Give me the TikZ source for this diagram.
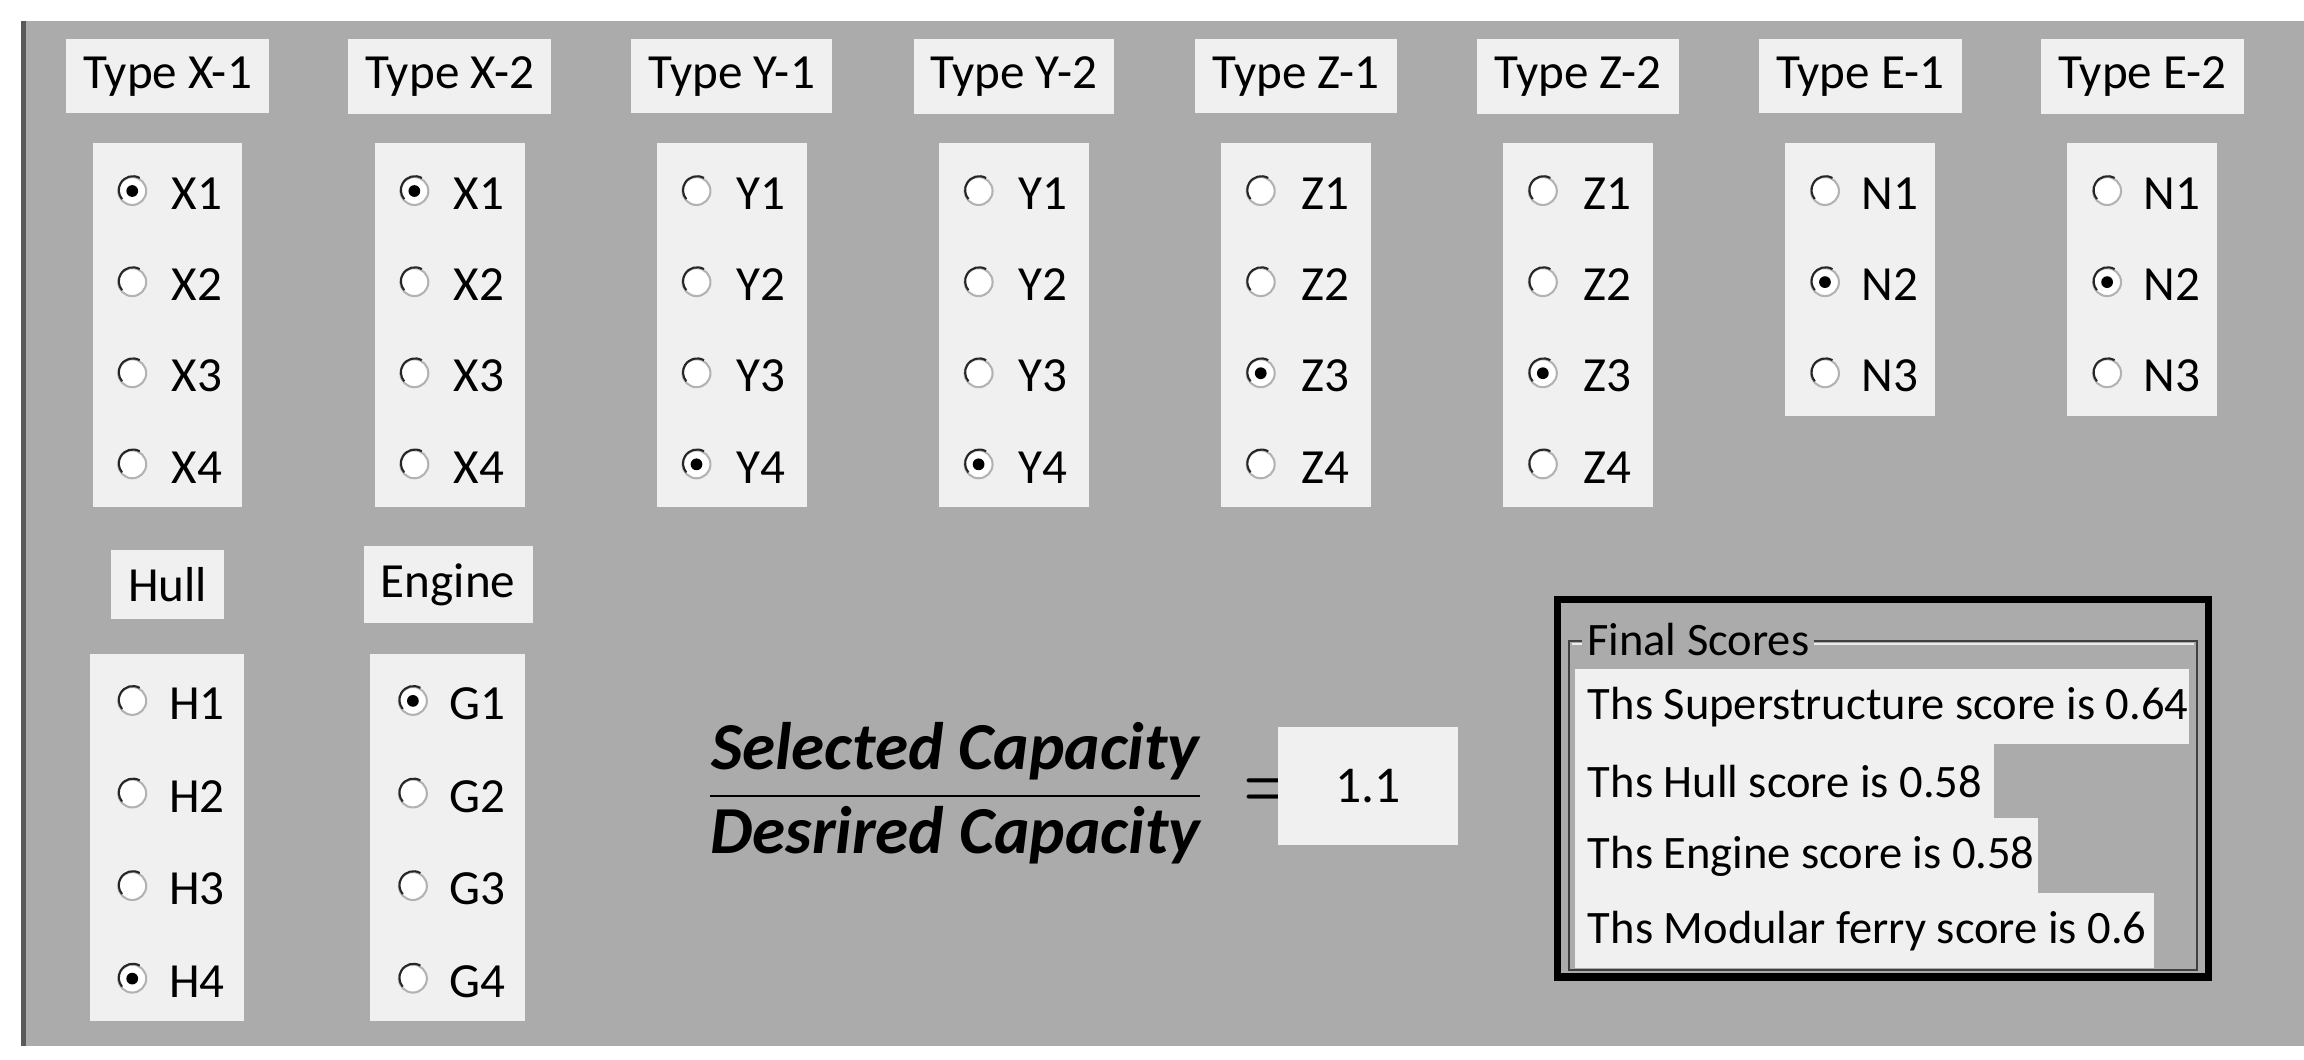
\documentclass[tikz,border=0pt]{standalone}
\usepackage{amsmath}
\usepackage{fontspec}
\setmainfont{Carlito}
\usepackage{tikz}
\usetikzlibrary{positioning}
\usepackage{xcolor}
\definecolor{panel}{HTML}{ABABAB}
\definecolor{boxgray}{HTML}{F0F0F0}
\tikzset{
  lab/.style={fill=boxgray, minimum width=1.3cm, minimum height=0.43cm, font=\fontsize{9.5}{11}\selectfont},
  radio/.style={circle, draw=gray!60, fill=white, minimum size=0.19cm, inner sep=0pt},
  opt/.style={font=\fontsize{9.5}{11}\selectfont},
  score/.style={anchor=west, inner sep=0pt, font=\fontsize{9}{11}\selectfont}
}
\begin{document}
\begin{tikzpicture}[x=0.01cm, y=-0.01cm]
    \useasboundingbox (0,0) rectangle (1568,721);
    % panel
    \fill[panel] (15,14) rectangle (1568,712);
    \draw[gray!70!black, line width=0.04cm] (16,14) -- (16,712);

    % top groups
    \foreach \lab/\l/\sel/\n [count=\i] in {X-1/X/1/4, X-2/X/1/4, Y-1/Y/4/4, Y-2/Y/4/4,
        Z-1/Z/3/4, Z-2/Z/3/4, E-1/N/2/3, E-2/N/2/3} {
      \pgfmathsetmacro\cx{114+192*(\i-1)}
      \node[lab] (t\i) at (\cx,52) {Type \lab};
      \fill[boxgray] ({\cx-51},97) rectangle ({\cx+51},{130+62*(\n-1)+29});
      \foreach \k in {1,...,\n} {
        \node[radio] (r\i-\k) at ({\cx-24},{130+62*(\k-1)}) {};
        \draw[gray!30!black, thin] (r\i-\k.60) arc (60:220:0.095cm);
        \node[opt] (o\i-\k) at ({\cx+20},{132+62*(\k-1)}) {\l\k};
        \ifnum\k=\sel \fill[black] (r\i-\k) circle (0.04cm); \fi
      }
    }

    % hull and engine
    \foreach \lab/\l/\sel/\cx/\w [count=\i] in {Hull/H/4/114/0.68cm, Engine/G/1/305/1.05cm} {
      \node[lab, minimum width=\w] (b\i) at (\cx,398) {\lab};
      \fill[boxgray] ({\cx-53},445) rectangle ({\cx+52},695);
      \foreach \k in {1,...,4} {
        \node[radio] (h\i-\k) at ({\cx-24},{477+63*(\k-1)}) {};
        \draw[gray!30!black, thin] (h\i-\k.60) arc (60:220:0.095cm);
        \node[opt] (p\i-\k) at ({\cx+20},{479+63*(\k-1)}) {\l\k};
        \ifnum\k=\sel \fill[black] (h\i-\k) circle (0.04cm); \fi
      }
    }

    % capacity ratio
    \node (frac) at (650,540) {\fontsize{13}{15}\selectfont
      $\dfrac{\text{\bfseries\itshape Selected Capacity}}{\text{\bfseries\itshape Desrired Capacity}}$};
    \node[right=0pt of frac, font=\fontsize{14}{16}\selectfont] (eq) {$\boldsymbol{=}$};
    \node[fill=boxgray, minimum width=1.23cm, minimum height=0.8cm,
      font=\fontsize{10}{12}\selectfont] (ratio) at (931,535) {1.1};

    % final scores
    \draw[black, line width=0.05cm] (1060,408) rectangle (1503,665);
    \draw[gray!50!black] (1068,436) rectangle (1495,660);
    \draw[gray!15] (1070,438) -- (1493,438);
    \node[score, fill=panel, inner xsep=1pt] (fs) at (1076,435) {Final Scores};
    \foreach \t/\w [count=\j] in {Ths Superstructure score is 0.64/1490,
        Ths Hull score is 0.58/1357, Ths Engine score is 0.58/1387,
        Ths Modular ferry score is 0.6/1466} {
      \fill[boxgray] (1072,{455+51*(\j-1)}) rectangle (\w,{506+51*(\j-1)});
      \node[score] (s\j) at (1080,{481+51*(\j-1)}) {\t};
    }
\end{tikzpicture}
\end{document}
